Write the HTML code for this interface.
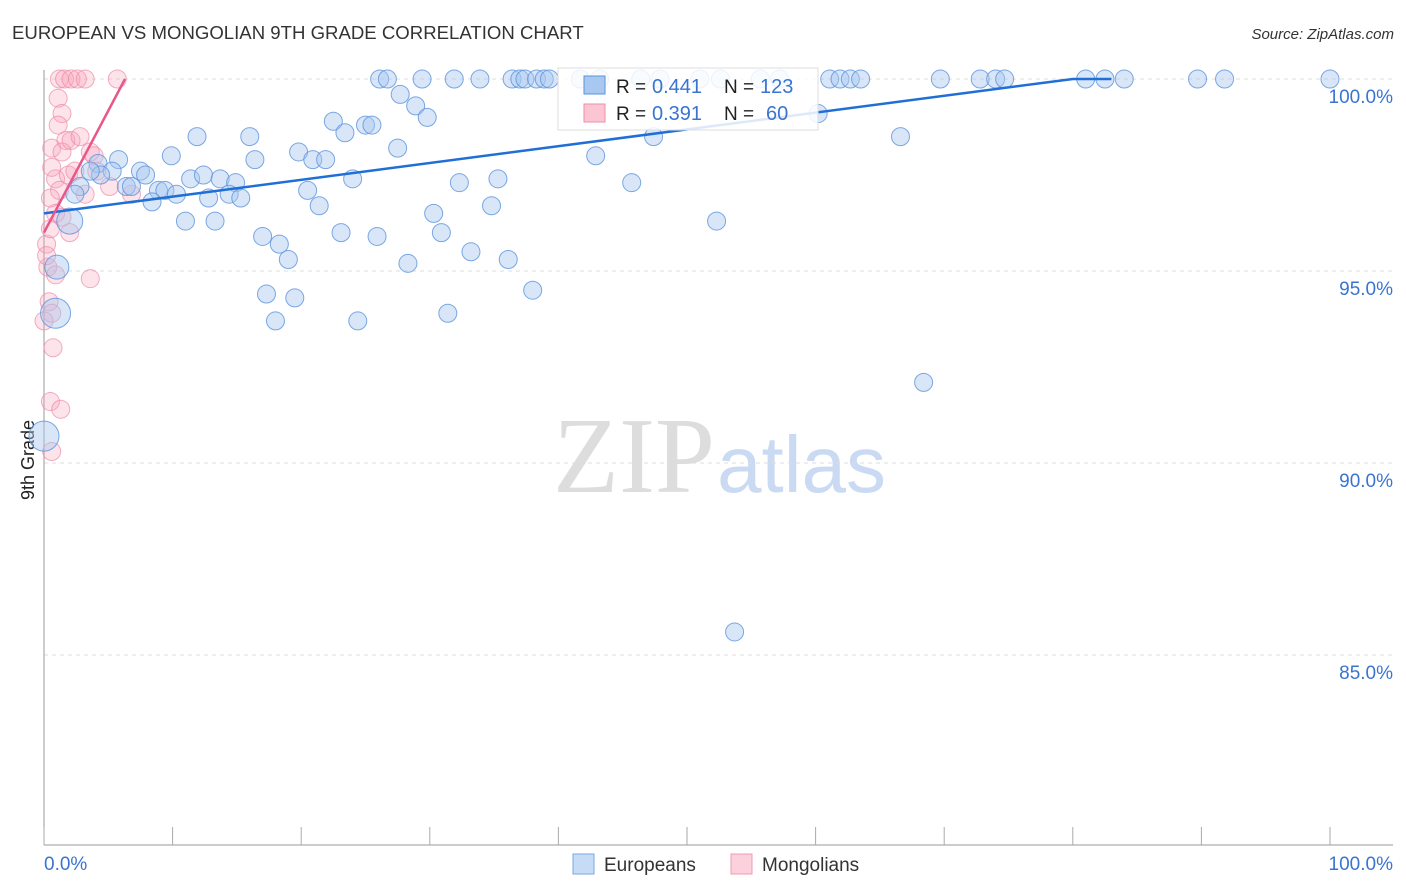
<!DOCTYPE html>
<html><head><meta charset="utf-8"><style>
body{margin:0;background:#fff;font-family:"Liberation Sans",sans-serif}
svg{display:block}
</style></head><body>
<svg id="chart" width="1406" height="892">
<text x="12" y="39" font-size="18.6" fill="#333">EUROPEAN VS MONGOLIAN 9TH GRADE CORRELATION CHART</text>
<text x="1394" y="39" font-size="15" fill="#333" font-style="italic" text-anchor="end">Source: ZipAtlas.com</text>
<text x="0" y="0" transform="translate(34,460) rotate(-90)" font-size="18" fill="#222" text-anchor="middle">9th Grade</text>
<text x="553" y="492" font-size="108" fill="#ddd" font-family="Liberation Serif,serif">ZIP</text>
<text x="717" y="492" font-size="80" fill="#c9daf2">atlas</text>
<g id="grid"></g><g id="axes"></g><g id="pink"></g><g id="blue"></g><g id="lines"></g>
<g>
<rect x="558" y="68" width="260" height="62" fill="#fff" fill-opacity="0.85" stroke="#ddd"/>
<rect x="584" y="76" width="21" height="18" fill="#a9c8f0" stroke="#5b93dd"/>
<rect x="584" y="104" width="21" height="18" fill="#fbc5d3" stroke="#ef8ea8"/>
<text x="616" y="93" font-size="19" fill="#222">R =</text><text x="652" y="93" font-size="20" fill="#3a74d1">0.441</text>
<text x="724" y="93" font-size="19" fill="#222">N =</text><text x="760" y="93" font-size="20" fill="#3a74d1">123</text>
<text x="616" y="120" font-size="19" fill="#222">R =</text><text x="652" y="120" font-size="20" fill="#3a74d1">0.391</text>
<text x="724" y="120" font-size="19" fill="#222">N =</text><text x="766" y="120" font-size="20" fill="#3a74d1">60</text>
</g>
<g>
<rect x="573" y="854" width="21" height="20" fill="#c6dbf6" stroke="#7aa7e3"/>
<text x="604" y="871" font-size="19" fill="#333">Europeans</text>
<rect x="731" y="854" width="21" height="20" fill="#fcd0dc" stroke="#ef9bb2"/>
<text x="762" y="871" font-size="19" fill="#333">Mongolians</text>
</g>
</svg>
<script>
const yTicks=[100,95,90,85];
const xTickLabels=["0.0%","100.0%"];
const bluePts=[[26.1,100],[26.7,100],[29.4,100],[31.9,100],[33.9,100],[36.4,100],[37,100],[37.4,100],[38.3,100],[38.9,100],[39.3,100],[41.7,100],[43.2,100],[46.4,100],[47.9,100],[51,100],[52.6,100],[55.7,100],[57.2,100],[61.1,100],[61.9,100],[62.7,100],[63.5,100],[69.7,100],[72.8,100],[74,100],[74.7,100],[81,100],[82.5,100],[84,100],[89.7,100],[91.8,100],[100,100],
[27.7,99.6],[28.9,99.3],[29.8,99],[22.5,98.9],[23.4,98.6],[25,98.8],[25.5,98.8],[27.5,98.2],[11.9,98.5],[16,98.5],[9.9,98],[5.8,97.9],[4.2,97.8],[7.5,97.6],[5.3,97.6],[4.4,97.5],[3.6,97.6],[2.8,97.2],[6.4,97.2],[6.8,97.2],[7.9,97.5],[8.9,97.1],[9.4,97.1],[10.3,97],[8.4,96.8],[11.4,97.4],[12.4,97.5],[12.8,96.9],[13.7,97.4],[14.9,97.3],[14.4,97],[15.3,96.9],[16.4,97.9],[19.8,98.1],[20.9,97.9],[21.9,97.9],[20.5,97.1],[21.4,96.7],[24,97.4],[32.3,97.3],[35.3,97.4],[34.8,96.7],[30.3,96.5],[11,96.3],[13.3,96.3],[17,95.9],[18.3,95.7],[19,95.3],[23.1,96],[25.9,95.9],[30.9,96],[33.2,95.5],[28.3,95.2],[36.1,95.3],[38,94.5],[17.3,94.4],[19.5,94.3],[18,93.7],[24.4,93.7],[31.4,93.9],[45.7,97.3],[47.4,98.5],[42.9,98],[60.2,99.1],[66.6,98.5],[52.3,96.3],[68.4,92.1],[53.7,85.6],[2,96.3],[1,95.1],[0.9,93.9],[0,90.7],[2.4,97]];
const blueR=[];bluePts.forEach((p,i)=>blueR.push(i>=bluePts.length-5&&i<bluePts.length-1?(i==bluePts.length-4?12:(i==bluePts.length-5?13:15)):9));
const pinkPts=[[1.2,100],[1.6,100],[2.1,100],[2.6,100],[3.2,100],[5.7,100],[1.1,99.5],[1.4,99.1],[1.1,98.8],[1.7,98.4],[0.6,98.2],[1.4,98.1],[2.1,98.4],[2.8,98.5],[3.6,98.1],[3.9,98],[0.9,97.4],[1.2,97.1],[1.9,97.5],[2.4,97.6],[0.5,96.9],[0.9,96.5],[1.4,96.4],[2,96],[0.2,95.7],[0.5,96.1],[0.3,95.1],[0.9,94.9],[0.4,94.2],[0.6,93.9],[0,93.7],[0.7,93],[3.6,94.8],[6.8,97],[0.5,91.6],[1.3,91.4],[0.6,90.3],[0.2,95.4],[0.6,97.7],[3.2,97],[5.1,97.2],[4.1,97.6]];
const blueTrend=[[0,96.5],[80,100],[83,100]];
const pinkTrend=[[0,96],[6.3,100]];
const X=v=>44+v*12.86, Y=v=>79+(100-v)*38.4;
const NS="http://www.w3.org/2000/svg";
function mk(t,a,p){const e=document.createElementNS(NS,t);for(const k in a)e.setAttribute(k,a[k]);document.getElementById(p).appendChild(e);return e;}
yTicks.forEach(t=>{
 const l=mk('line',{x1:44,x2:1393,y1:Y(t),y2:Y(t),stroke:'#ddd','stroke-dasharray':'4,4'},'grid');
 
 
 const tx=mk('text',{x:1393,y:Y(t)+24,'text-anchor':'end','font-size':19,fill:'#3a74d1'},'grid');
 tx.textContent=t.toFixed(1)+'%';
 
 
});
const ax=mk('line',{x1:44,x2:44,y1:70,y2:845,stroke:'#999'},'axes');
const bx=mk('line',{x1:44,x2:1393,y1:845,y2:845,stroke:'#999'},'axes');
for(let i=0;i<=10;i++){const t=mk('line',{x1:X(i*10),x2:X(i*10),y1:827,y2:845,stroke:'#aaa'},'axes');}
[[0,'start'],[100,'end']].forEach((d,i)=>{const t=mk('text',{x:i?1393:44,y:870,'text-anchor':d[1],'font-size':19,fill:'#3a74d1'},'axes');t.textContent=xTickLabels[i];});
pinkPts.forEach(p=>{const c=mk('circle',{cx:X(p[0]),cy:Y(p[1]),r:9,fill:'#f7a3bb','fill-opacity':0.3,stroke:'#ee8aa6','stroke-opacity':0.7},'pink');});
bluePts.forEach((p,i)=>{const c=mk('circle',{cx:X(p[0]),cy:Y(p[1]),r:blueR[i],fill:'#a9c8f0','fill-opacity':0.45,stroke:'#5b93dd','stroke-opacity':0.8},'blue');});
const bt=mk('polyline',{points:blueTrend.map(p=>X(p[0])+','+Y(p[1])).join(' '),fill:'none',stroke:'#1f6fd6','stroke-width':2.5},'lines');
const pt=mk('polyline',{points:pinkTrend.map(p=>X(p[0])+','+Y(p[1])).join(' '),fill:'none',stroke:'#e8578a','stroke-width':2.5},'lines');
</script>
</body></html>
